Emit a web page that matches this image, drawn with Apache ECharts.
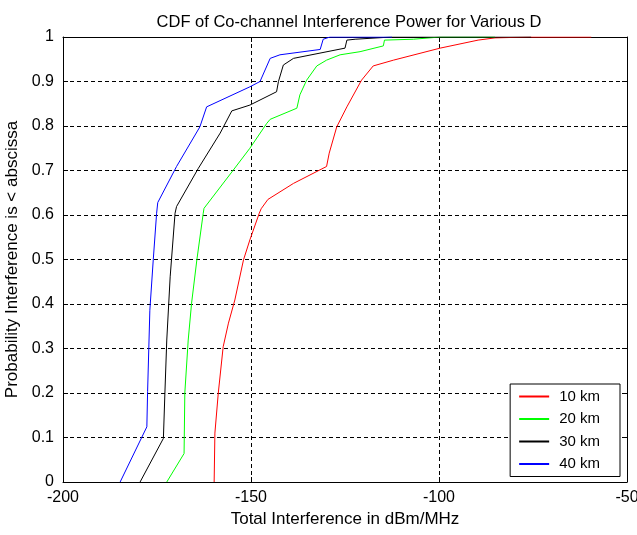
<!DOCTYPE html>
<html lang="en">
<head>
    <meta charset="UTF-8">
    <title>CDF of Co-channel Interference Power</title>
    <script type="text/javascript" src="https://cdn.jsdelivr.net/npm/echarts@6/dist/echarts.min.js"></script>
    <style>
        html, body { margin: 0; padding: 0; background: #fff; }
    </style>
</head>
<body>
<div id="cdf" style="width: 637px;height:535px;"></div>

<script type="text/javascript">
    // distance labels
    var names = ['10 km', '20 km', '30 km', '40 km'];
    var colors = ['#ff0000', '#00ff00', '#000000', '#0000ff'];

    // interference power (dBm/MHz) and cumulative probability
    var x10 = [-159.8, -159.6, -158.7, -157.4, -156.0, -154.3, -152.0, -150.3, -147.8, -147.3, -145.5, -138.7, -129.9, -129.2, -127.2, -124.5, -120.6, -117.5, -112.1, -99.7, -89.6, -85.1, -75.8, -59.5];
    var p10 = [0, 0.11, 0.2, 0.304, 0.357, 0.409, 0.499, 0.544, 0.604, 0.614, 0.635, 0.671, 0.709, 0.739, 0.798, 0.843, 0.903, 0.935, 0.948, 0.975, 0.993, 0.998, 1, 1];

    var x20 = [-172.4, -167.8, -167.6, -166.7, -165.8, -164.4, -162.7, -162.5, -154.7, -150.3, -145.8, -144.9, -137.8, -137.0, -135.2, -132.5, -129.9, -126.3, -121.0, -114.8, -114.5, -106.8, -99.7, -85.1];
    var p20 = [0, 0.064, 0.2, 0.319, 0.402, 0.499, 0.604, 0.615, 0.701, 0.75, 0.806, 0.815, 0.84, 0.87, 0.903, 0.935, 0.948, 0.96, 0.967, 0.98, 0.993, 0.995, 1, 1];

    var x30 = [-179.5, -173.3, -172.9, -172.4, -171.5, -170.2, -169.8, -164.0, -158.2, -155.1, -150.3, -143.2, -142.7, -141.4, -138.7, -125.0, -124.5, -122.3, -112.6, -75.5];
    var p30 = [0, 0.098, 0.2, 0.319, 0.461, 0.604, 0.619, 0.705, 0.784, 0.834, 0.847, 0.877, 0.9, 0.937, 0.952, 0.975, 0.993, 0.995, 1, 1];

    var x40 = [-184.8, -177.7, -177.5, -176.9, -176.0, -175.1, -174.8, -169.8, -163.6, -161.8, -150.3, -147.6, -144.9, -142.3, -131.6, -130.8, -129.0, -112.5];
    var p40 = [0, 0.124, 0.203, 0.386, 0.499, 0.604, 0.628, 0.709, 0.798, 0.843, 0.888, 0.9, 0.952, 0.96, 0.972, 0.995, 1, 1];

    var xs = [x10, x20, x30, x40];
    var ps = [p10, p20, p30, p40];

    function pairs(x, p) {
        return x.map(function (v, i) { return [v, p[i]]; });
    }

    var font = 'Liberation Sans, Arial, sans-serif';
    var dotted = {show: true, lineStyle: {color: '#000', type: [4, 3], width: 1}};

    var myChart = echarts.init(document.getElementById('cdf'));

    var series = names.map(function (n, i) {
        return {
            name: n,
            type: 'line',
            data: pairs(xs[i], ps[i]),
            symbol: 'none',
            animation: false,
            lineStyle: {color: colors[i], width: 1},
            itemStyle: {color: colors[i]}
        };
    });

    myChart.setOption({
        backgroundColor: '#fff',
        textStyle: {fontFamily: font},
        title: {
            text: 'CDF of Co-channel Interference Power for Various D',
            left: 344,
            textAlign: 'center',
            top: 9,
            textStyle: {fontSize: 16.5, fontWeight: 'normal', color: '#000', fontFamily: font}
        },
        legend: {
            orient: 'vertical',
            right: 17,
            top: 384,
            itemWidth: 30,
            itemHeight: 14,
            itemGap: 7.5,
            padding: [5, 20, 5, 8],
            borderColor: '#000',
            borderWidth: 1,
            backgroundColor: '#fff',
            itemStyle: {opacity: 0},
            textStyle: {fontSize: 15, color: '#000', fontFamily: font, padding: [0, 0, 0, 5]},
            data: names
        },
        grid: {left: 63, right: 10, top: 37, bottom: 53, show: false, outerBoundsMode: 'none'},
        xAxis: [{
            type: 'value',
            min: -200, max: -50, interval: 50,
            name: 'Total Interference in dBm/MHz',
            nameLocation: 'middle',
            nameGap: 28,
            nameTextStyle: {fontSize: 17, color: '#000'},
            axisLine: {show: true, onZero: false, lineStyle: {color: '#000'}},
            axisTick: {show: true, inside: true, length: 5, lineStyle: {color: '#000'}},
            axisLabel: {fontSize: 16, color: '#000', margin: 8},
            splitLine: dotted
        }, {
            type: 'value',
            position: 'top',
            min: -200, max: -50, interval: 50,
            axisLine: {show: true, onZero: false, lineStyle: {color: '#000'}},
            axisTick: {show: true, inside: true, length: 5, lineStyle: {color: '#000'}},
            axisLabel: {show: false},
            splitLine: {show: false}
        }],
        yAxis: [{
            type: 'value',
            min: 0, max: 1, interval: 0.1,
            name: 'Probability Interference is < abscissa',
            nameLocation: 'middle',
            nameGap: 38,
            nameTextStyle: {fontSize: 17, color: '#000'},
            axisLine: {show: true, onZero: false, lineStyle: {color: '#000'}},
            axisTick: {show: true, inside: true, length: 5, lineStyle: {color: '#000'}},
            axisLabel: {fontSize: 16, color: '#000', margin: 9},
            splitLine: dotted
        }, {
            type: 'value',
            position: 'right',
            min: 0, max: 1, interval: 0.1,
            axisLine: {show: true, onZero: false, lineStyle: {color: '#000'}},
            axisTick: {show: true, inside: true, length: 5, lineStyle: {color: '#000'}},
            axisLabel: {show: false},
            splitLine: {show: false}
        }],
        series: series
    });
</script>
</body>
</html>
